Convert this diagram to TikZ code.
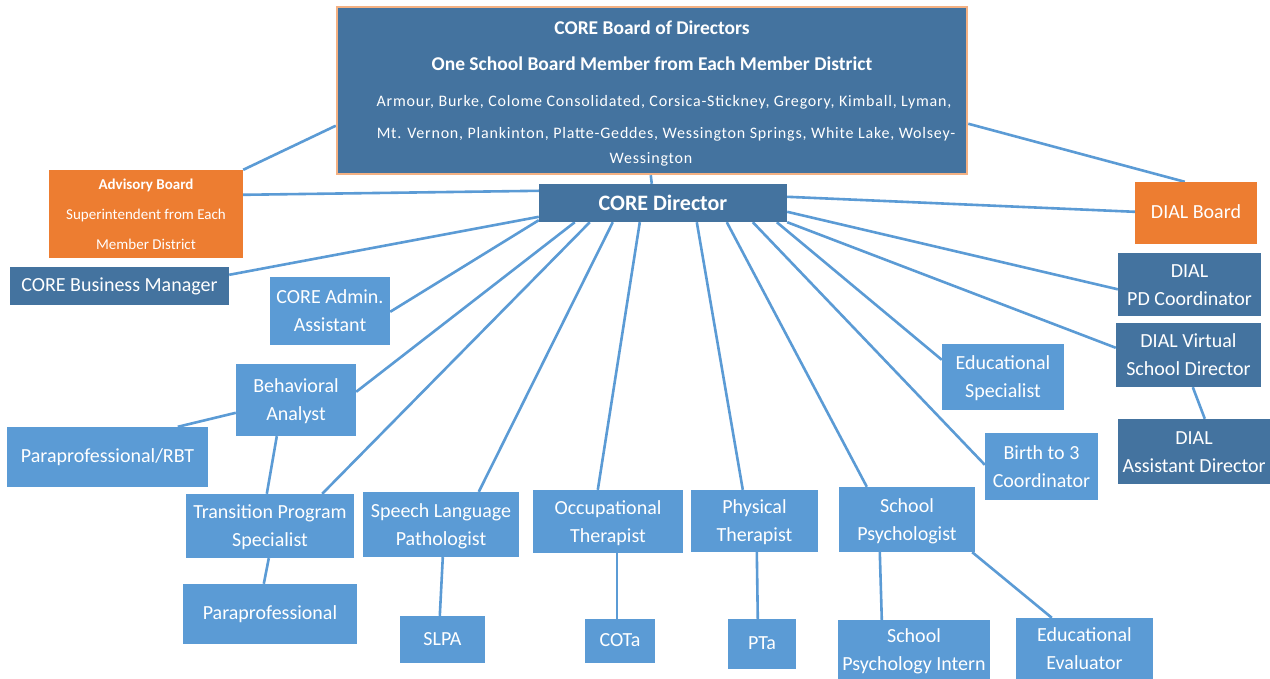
\documentclass[tikz,border=0pt]{standalone}
\usepackage{fontspec}
\setmainfont{Carlito}
\newfontfamily\spacedfont[LetterSpace=5]{Carlito}
\usetikzlibrary{calc,backgrounds}
\definecolor{darkbox}{HTML}{44739F}
\definecolor{lightbox}{HTML}{5B9BD5}
\definecolor{orangebox}{HTML}{ED7D31}
\definecolor{boardedge}{HTML}{F4B183}
\definecolor{linkcol}{HTML}{5B9BD5}
\tikzset{
  base/.style={rectangle, inner sep=0pt, text=white, align=center,
    font=\fontsize{20}{28}\selectfont},
  onel/.style={execute at begin node={\rule[-8pt]{0pt}{27pt}}},
  twol/.style={execute at begin node={\rule[-8pt]{0pt}{57pt}}},
  darkb/.style={base, fill=darkbox},
  lightb/.style={base, fill=lightbox},
  orangeb/.style={base, fill=orangebox},
  sz/.style 2 args={minimum width=#1pt, minimum height=#2pt},
  link/.style={draw=linkcol, line width=2.6pt},
  btext/.style={inner sep=0pt, text=white, anchor=base},
}
\begin{document}
\begin{tikzpicture}[x=1pt,y=-1pt]
\useasboundingbox (0,0) rectangle (1270,679);
% board
\node[darkb, sz={630}{167}, draw=boardedge, line width=2.5pt] (board) at (652,90.5) {};
\node[btext, font=\bfseries\fontsize{19.5}{22}\selectfont] (bt1) at (652,35) {CORE Board of Directors};
\node[btext, font=\bfseries\fontsize{19.5}{22}\selectfont] (bt2) at (652,71) {One School Board Member from Each Member District};
\node[btext, font=\spacedfont\fontsize{16}{20}\selectfont] (bt3) at (664,107) {Armour, Burke, Colome Consolidated, Corsica-Stickney, Gregory, Kimball, Lyman,};
\node[btext, font=\spacedfont\fontsize{16}{20}\selectfont] (bt4) at (666,139) {Mt. Vernon, Plankinton, Platte-Geddes, Wessington Springs, White Lake, Wolsey-};
\node[btext, font=\spacedfont\fontsize{16}{20}\selectfont] (bt5) at (651,164) {Wessington};
% director
\node[darkb, sz={248}{38}, font=\bfseries\fontsize{22}{26}\selectfont] (dir) at (663,203) {CORE Director};
% left side
\node[orangeb, sz={194}{88}, font=\fontsize{15}{30}\selectfont] (adv) at (146,214) {\textbf{Advisory Board}\\Superintendent from Each\\Member District};
\node[darkb, onel, sz={219}{38}] (biz) at (119.5,286) {CORE Business Manager};
\node[lightb, twol, sz={120}{68}] (admin) at (330,311) {CORE Admin.\\Assistant};
\node[lightb, twol, sz={120}{72}] (ba) at (296,400) {Behavioral\\Analyst};
\node[lightb, onel, sz={201}{60}] (rbt) at (107.5,457) {Paraprofessional/RBT};
\node[lightb, twol, sz={168}{64}] (trans) at (270,526) {Transition Program\\Specialist};
\node[lightb, onel, sz={174}{60}] (para) at (270,614) {Paraprofessional};
\node[lightb, twol, sz={156}{65}] (slp) at (441,524.5) {Speech Language\\Pathologist};
\node[lightb, onel, sz={85}{47}] (slpa) at (442.5,639.5) {SLPA};
\node[lightb, twol, sz={150}{63}] (ot) at (608,521.5) {Occupational\\Therapist};
\node[lightb, onel, sz={70}{44}] (cota) at (620,641) {COTa};
\node[lightb, twol, sz={127}{62}] (pt) at (754.5,521) {Physical\\Therapist};
\node[lightb, onel, sz={68}{50}] (pta) at (762,644) {PTa};
\node[lightb, twol, sz={136}{65}] (sp) at (907,519.5) {School\\Psychologist};
\node[lightb, twol, sz={152}{60}] (spi) at (914,650) {School\\Psychology Intern};
\node[lightb, twol, sz={137}{61}] (ee) at (1084.5,648.5) {Educational\\Evaluator};
\node[lightb, twol, sz={122}{66}] (edspec) at (1003,377) {Educational\\Specialist};
\node[lightb, twol, sz={113}{67}] (birth) at (1041.5,466.5) {Birth to 3\\Coordinator};
% right side
\node[orangeb, onel, sz={122}{62}] (dialb) at (1196,213) {DIAL Board};
\node[darkb, twol, sz={143}{63}] (pd) at (1189.5,285) {DIAL\\PD Coordinator};
\node[darkb, twol, sz={145}{64}] (virt) at (1188.5,355) {DIAL Virtual\\School Director};
\node[darkb, twol, sz={152}{65}] (asst) at (1194,451.5) {DIAL\\Assistant Director};
% connectors
\begin{scope}[on background layer]
\fill[white] (0,0) rectangle (1270,679);
\draw[link] ($(board.north west)+(0,120)$) -- (adv.north east);
\draw[link] ($(board.south west)+(315,0)$) -- ($(dir.north west)+(113,0)$);
\draw[link] ($(board.north east)+(0,118)$) -- ($(dialb.north west)+(50,0)$);
\draw[link] ($(adv.north east)+(0,25)$) -- ($(dir.north west)+(0,7)$);
\draw[link] ($(dir.north west)+(0,33)$) -- ($(biz.north east)+(0,8)$);
\draw[link] ($(dir.south west)+(0,-2)$) -- ($(admin.north east)+(0,35)$);
\draw[link] ($(dir.south west)+(36,0)$) -- ($(ba.north east)+(0,28)$);
\draw[link] ($(dir.south west)+(51,0)$) -- ($(trans.north east)+(-32,0)$);
\draw[link] ($(dir.south west)+(74,0)$) -- ($(slp.north west)+(116,0)$);
\draw[link] ($(dir.south west)+(101,0)$) -- ($(ot.north west)+(65,0)$);
\draw[link] ($(dir.south west)+(158,0)$) -- ($(pt.north west)+(52,0)$);
\draw[link] ($(dir.south west)+(188,0)$) -- ($(sp.north west)+(28,0)$);
\draw[link] ($(dir.south west)+(214,0)$) -- ($(birth.north west)+(0,32)$);
\draw[link] ($(dir.south west)+(238,0)$) -- ($(edspec.north west)+(0,16)$);
\draw[link] (dir.south east) -- ($(virt.north west)+(0,25)$);
\draw[link] ($(dir.north east)+(0,28)$) -- ($(pd.north west)+(0,36)$);
\draw[link] ($(dir.north east)+(0,13)$) -- ($(dialb.north west)+(0,30)$);
\draw[link] ($(ba.north west)+(0,49)$) -- ($(rbt.north west)+(171,0)$);
\draw[link] ($(ba.south west)+(41,0)$) -- ($(trans.north west)+(81,0)$);
\draw[link] ($(trans.south west)+(83,0)$) -- ($(para.north west)+(81,0)$);
\draw[link] ($(slp.south west)+(80,0)$) -- ($(slpa.north west)+(40,0)$);
\draw[link] ($(ot.south west)+(84,0)$) -- ($(cota.north west)+(32,0)$);
\draw[link] ($(pt.south west)+(66,0)$) -- ($(pta.north west)+(30,0)$);
\draw[link] ($(sp.south west)+(41,0)$) -- ($(spi.north west)+(44,0)$);
\draw[link] ($(sp.south east)+(-3,0)$) -- ($(ee.north west)+(36,0)$);
\draw[link] ($(virt.south west)+(77,0)$) -- ($(asst.north west)+(87,0)$);
\end{scope}
\end{tikzpicture}
\end{document}
